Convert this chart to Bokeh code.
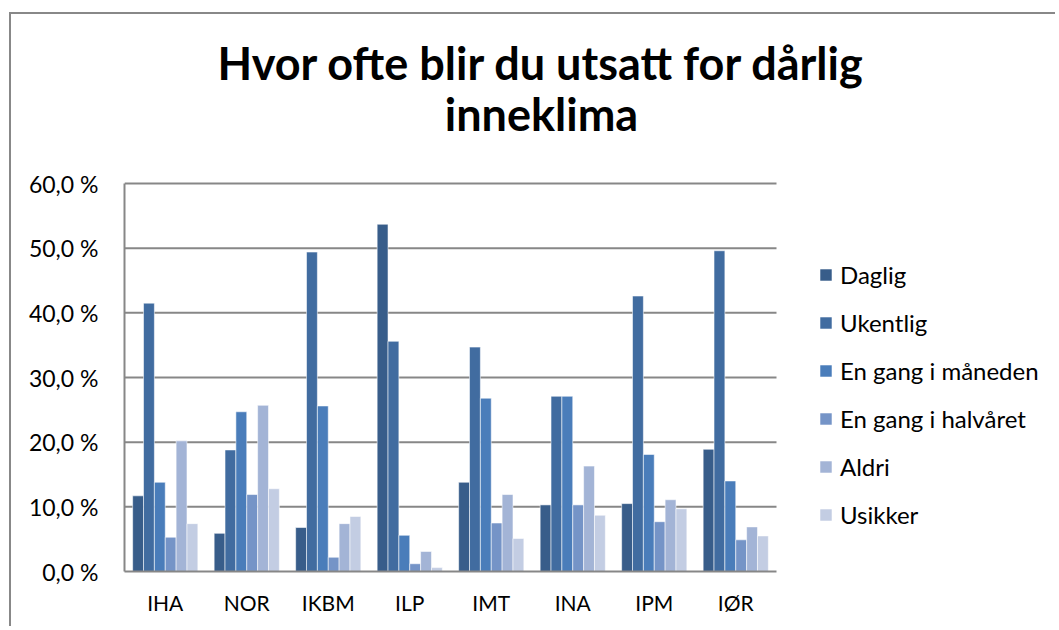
from bokeh.plotting import figure
from bokeh.models import (ColumnDataSource, Range1d, FixedTicker, Legend, LegendItem, Label)
from bokeh.transform import dodge
from bokeh.embed import file_html
from bokeh.resources import INLINE

categories = ["IHA", "NOR", "IKBM", "ILP", "IMT", "INA", "IPM", "IØR"]
series_names = ["Daglig", "Ukentlig", "En gang i måneden", "En gang i halvåret", "Aldri", "Usikker"]
daglig = [11.7, 5.9, 6.8, 53.7, 13.8, 10.3, 10.5, 18.9]
ukentlig = [41.5, 18.8, 49.4, 35.6, 34.7, 27.1, 42.6, 49.6]
maaned = [13.8, 24.7, 25.6, 5.6, 26.8, 27.1, 18.1, 14.0]
halvaar = [5.3, 11.9, 2.2, 1.2, 7.5, 10.3, 7.7, 4.9]
aldri = [20.2, 25.7, 7.4, 3.1, 11.9, 16.3, 11.1, 6.9]
usikker = [7.4, 12.8, 8.5, 0.6, 5.1, 8.7, 9.7, 5.5]
y_ticks = [0, 10, 20, 30, 40, 50, 60]
y_tick_labels = ["0,0 %", "10,0 %", "20,0 %", "30,0 %", "40,0 %", "50,0 %", "60,0 %"]
title_lines = ["Hvor ofte blir du utsatt for dårlig", "inneklima"]

colors = ["#385D8A", "#416CA0", "#4A7DBA", "#7594C7", "#A3B4D6", "#C3CDE3"]
keys = ["s0", "s1", "s2", "s3", "s4", "s5"]
FONT = "Lato"
GRAY = "#878787"

n = len(categories)
xi = list(range(n))
source = ColumnDataSource(dict(xi=xi, cat=categories, s0=daglig, s1=ukentlig, s2=maaned,
                               s3=halvaar, s4=aldri, s5=usikker))

# layout (pixels)
W, H = 1046, 614
OX, OY = 11, 14            # canvas position on the page (margin + border)
FRAME_L = 124 - OX         # left of plotting area
FRAME_B = 571 - OY         # baseline (0 %)
CAT_PX = 81.5              # width of one category
Y_PX = 388 / 60            # pixels per percent
frame_w = W - FRAME_L

p = figure(width=W, height=H,
           x_range=Range1d(-0.5, -0.5 + frame_w / CAT_PX),
           y_range=Range1d(0, FRAME_B / Y_PX),
           output_backend="svg", toolbar_location=None,
           min_border_left=FRAME_L, min_border_right=0, min_border_top=0,
           min_border_bottom=H - FRAME_B,
           margin=(12, 0, 0, 9),
           styles={"border-top": "2px solid #888888", "border-left": "2px solid #888888"})
p.outline_line_color = None
p.xgrid.visible = False
p.ygrid.visible = False

p.yaxis.ticker = FixedTicker(ticks=y_ticks)
p.yaxis.major_label_overrides = {t: l for t, l in zip(y_ticks, y_tick_labels)}
p.yaxis.bounds = (y_ticks[0], y_ticks[-1])
p.xaxis.ticker = FixedTicker(ticks=xi)
p.xaxis.major_label_overrides = {i: c for i, c in zip(xi, categories)}
p.xaxis.bounds = (-0.5, n - 0.5)
for ax in (p.xaxis[0], p.yaxis[0]):
    ax.axis_line_color = GRAY
    ax.axis_line_width = 2
    ax.major_tick_line_color = None
    ax.minor_tick_line_color = None
    ax.major_tick_out = 0
    ax.major_tick_in = 0
    ax.major_label_text_font = FONT
    ax.major_label_text_color = "#000000"
p.yaxis.major_label_text_font_size = "23px"
p.xaxis.major_label_text_font_size = "21px"
p.yaxis.major_label_standoff = 26
p.xaxis.major_label_standoff = 18

# horizontal grid lines across the category area
p.segment(x0=-0.5, x1=n - 0.5, y0=y_ticks[1:], y1=y_ticks[1:], line_color=GRAY, line_width=2)

bw = 0.8 / 6
items = []
for i, (k, name, c) in enumerate(zip(keys, series_names, colors)):
    off = -0.4 + bw / 2 + i * bw
    r = p.vbar(x=dodge("xi", off), top=k, width=bw, source=source,
               fill_color=c, line_color="white", line_alpha=0.55, line_width=1)
    items.append(LegendItem(label=name, renderers=[r]))

legend = Legend(items=items, location=(694, 42), glyph_width=15, glyph_height=15,
                label_height=20, spacing=19, label_standoff=7, padding=0, margin=0,
                border_line_color=None, background_fill_alpha=0,
                label_text_font=FONT, label_text_font_size="24px", label_text_color="#000000")
p.add_layout(legend, "center")

cx = 541 - 124
for line, base in zip(title_lines, [77.5, 129.3]):
    p.add_layout(Label(x=cx, y=571 - base + 15.5, x_units="screen", y_units="screen", text=line,
                       text_align="center", text_baseline="alphabetic", text_font=FONT,
                       text_font_style="bold", text_font_size="45px", text_color="#000000"))

open("out.html", "w").write(file_html(p, INLINE))
